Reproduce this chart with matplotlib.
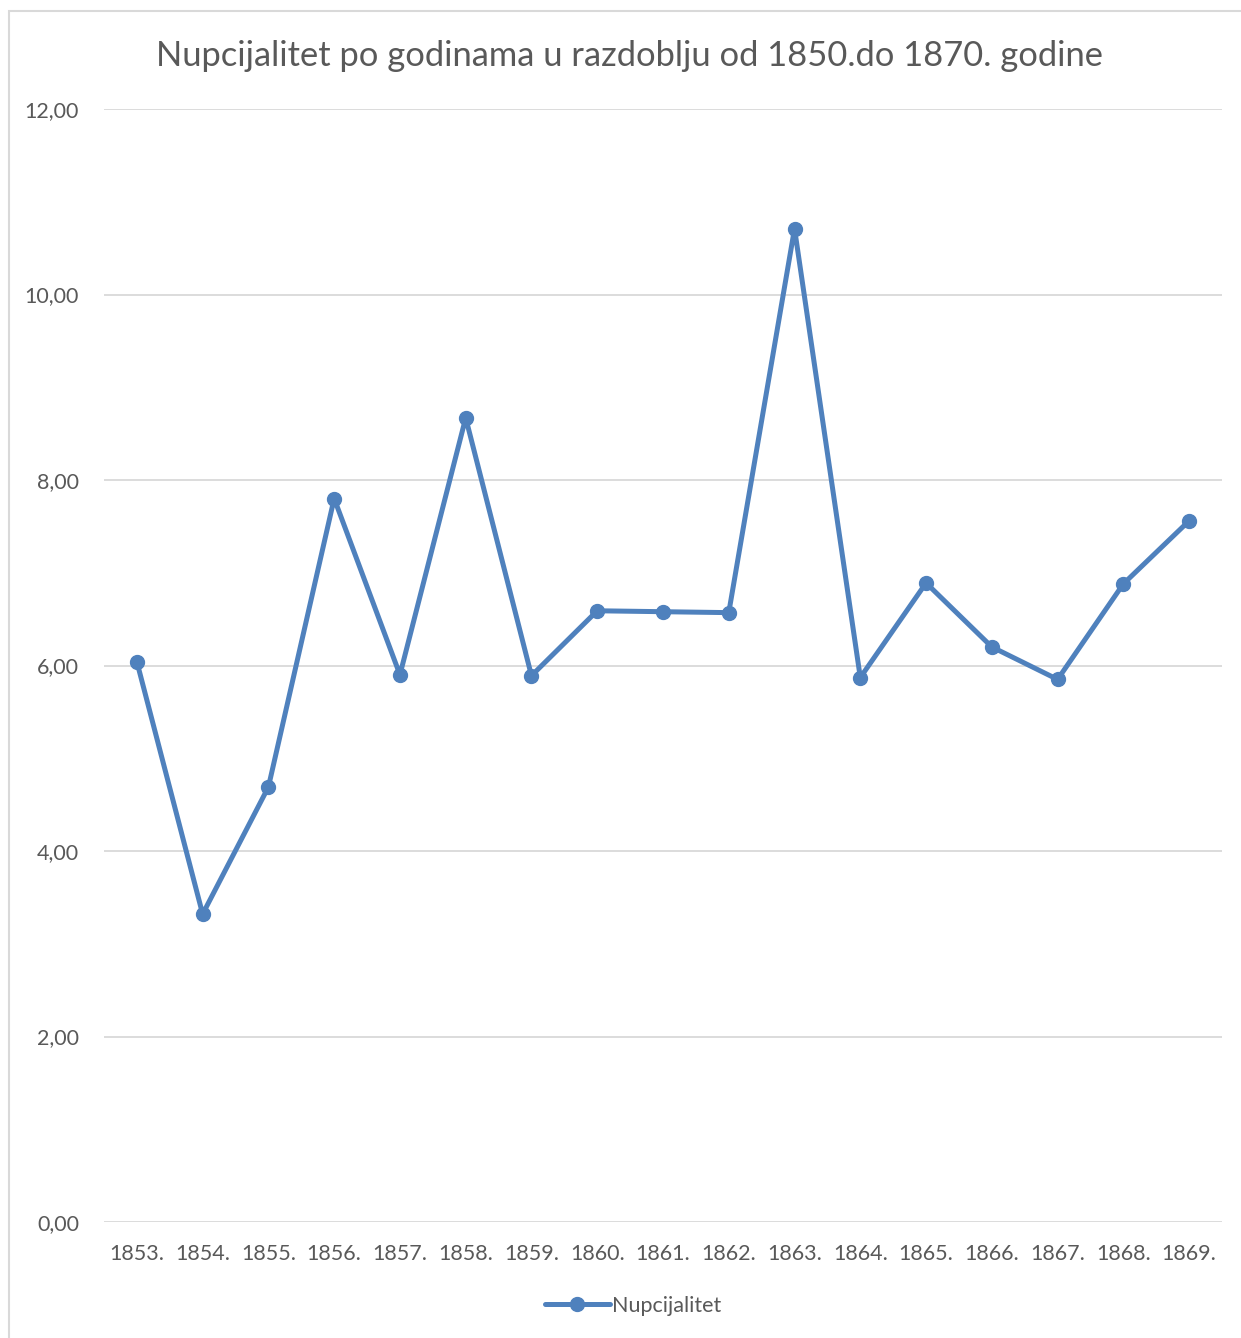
import matplotlib.pyplot as plt
from matplotlib.patches import Rectangle

years = ['1853.', '1854.', '1855.', '1856.', '1857.', '1858.', '1859.', '1860.', '1861.',
         '1862.', '1863.', '1864.', '1865.', '1866.', '1867.', '1868.', '1869.']
nupcijalitet = [6.04, 3.32, 4.69, 7.80, 5.90, 8.67, 5.89, 6.59, 6.58,
                6.57, 10.71, 5.87, 6.89, 6.20, 5.85, 6.88, 7.56]
y_ticks = [0, 2, 4, 6, 8, 10, 12]

W, H = 1241, 1338
plt.rcParams['font.family'] = ['Lato', 'DejaVu Sans']
text_col = '#595959'
line_col = '#4F81BD'

fig = plt.figure(figsize=(W / 100, H / 100), dpi=100)
ax = fig.add_axes([104 / W, 1 - 1222 / H, (1222 - 104) / W, (1222 - 109) / H])

# chart frame (light gray, runs off the right/bottom edge)
fig.patches.append(Rectangle((9 / W, -0.01), 1.05, 1 - 11 / H + 0.01, transform=fig.transFigure,
                             fill=False, edgecolor='#D9D9D9', linewidth=1.5))

x = list(range(len(years)))
ax.plot(x, nupcijalitet, color=line_col, linewidth=3.6, marker='o', markersize=10,
        label='Nupcijalitet', solid_capstyle='round', zorder=3)

ax.set_xlim(-0.5, len(years) - 0.5)
ax.set_ylim(0, 12)
ax.set_yticks(y_ticks)
ax.set_yticklabels([f'{v:.2f}'.replace('.', ',') for v in y_ticks])
ax.set_xticks(x)
ax.set_xticklabels(years)
ax.grid(axis='y', color='#D9D9D9', linewidth=1.3)
ax.set_axisbelow(True)
for s in ax.spines.values():
    s.set_visible(False)
ax.tick_params(length=0, labelsize=15.5, labelcolor=text_col)
ax.tick_params(axis='x', pad=16)
ax.tick_params(axis='y', pad=18)

fig.text(630 / W, 1 - 56 / H, 'Nupcijalitet po godinama u razdoblju od 1850.do 1870. godine',
         ha='center', va='center', fontsize=24.8, color=text_col)

fig.legend(loc='center', bbox_to_anchor=(633 / W, 1 - 1306 / H), frameon=False,
           fontsize=15.5, labelcolor=text_col, handlelength=3, handletextpad=0.1)

fig.savefig('out.png', dpi=100)
